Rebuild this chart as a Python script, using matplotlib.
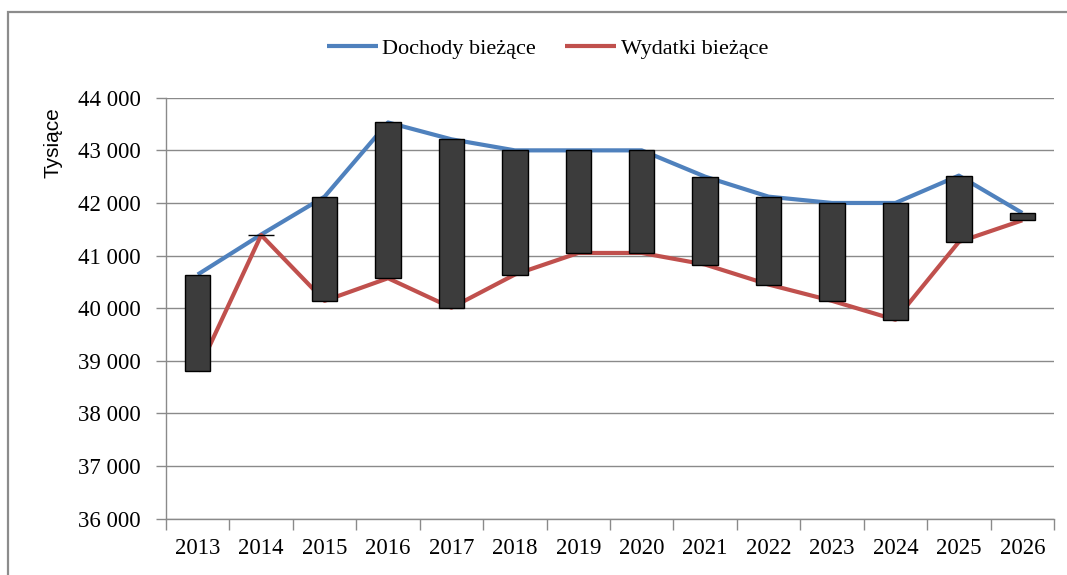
import matplotlib
matplotlib.use('Agg')
import matplotlib.pyplot as plt
import numpy as np
from matplotlib.patches import Rectangle

# data (thousands)
years = ['2013', '2014', '2015', '2016', '2017', '2018', '2019',
         '2020', '2021', '2022', '2023', '2024', '2025', '2026']
dochody = [40640, 41400, 42120, 43530, 43210, 43000, 43000,
           43000, 42500, 42120, 42000, 42000, 42520, 41810]
wydatki = [38800, 41390, 40140, 40570, 40010, 40640, 41050,
           41050, 40830, 40450, 40140, 39780, 41260, 41670]
y_ticks = [36000, 37000, 38000, 39000, 40000, 41000, 42000, 43000, 44000]
y_tick_labels = ['36 000', '37 000', '38 000', '39 000', '40 000',
                 '41 000', '42 000', '43 000', '44 000']

BLUE = '#4f81bd'
RED = '#c0504d'
GRID = '#8a8a8a'

plt.rcParams['font.family'] = ['Liberation Serif', 'DejaVu Serif']

fig = plt.figure(figsize=(10.67, 5.75), dpi=100)
ax = fig.add_axes([0.1556, 0.098, 0.8322, 0.732])

x = np.arange(len(years))
ax.plot(x, dochody, color=BLUE, lw=3, label='Dochody bieżące', zorder=2,
        solid_capstyle='butt')
ax.plot(x, wydatki, color=RED, lw=3, label='Wydatki bieżące', zorder=2,
        solid_capstyle='butt')

# up-down bars
d = np.array(dochody)
w = np.array(wydatki)
ax.bar(x, np.abs(d - w), bottom=np.minimum(d, w), width=0.4,
       color='#3c3c3c', edgecolor='black', lw=1, zorder=3)

ax.set_xlim(-0.5, len(years) - 0.5)
ax.set_ylim(36000, 44000)
ax.set_yticks(y_ticks)
ax.set_yticklabels(y_tick_labels, fontsize=16.5)
ax.yaxis.grid(True, color=GRID, lw=1)
ax.set_axisbelow(True)

# x ticks between categories, labels in the middle
ax.set_xticks(np.arange(-0.5, len(years), 1.0))
ax.set_xticklabels([])
ax.set_xticks(x, minor=True)
ax.set_xticklabels(years, minor=True, fontsize=16.5)
ax.tick_params(axis='x', which='minor', length=0, pad=14)
ax.tick_params(axis='x', which='major', length=8, color=GRID, width=1)
ax.tick_params(axis='y', length=7, color=GRID, width=1, pad=11)

for s in ['top', 'right']:
    ax.spines[s].set_visible(False)
for s in ['left', 'bottom']:
    ax.spines[s].set_color(GRID)
    ax.spines[s].set_linewidth(1)

fig.text(0.050, 1 - 143 / 575, 'Tysiące', rotation=90, ha='center',
         va='center', fontsize=15, family=['Liberation Sans', 'DejaVu Sans'])

fig.legend(loc='center', bbox_to_anchor=(0.513, 0.915), ncol=2,
           frameon=False, fontsize=16, handlelength=2.3, handletextpad=0.2,
           columnspacing=1.3)

# outer chart frame (cut off at right and bottom like in the source)
fig.patches.append(Rectangle((8 / 1067, -0.1), 1.2, 1.1 - 12 / 575,
                             transform=fig.transFigure, fill=False,
                             ec='#8c8c8c', lw=1.6))

fig.savefig('out.png', dpi=100)
